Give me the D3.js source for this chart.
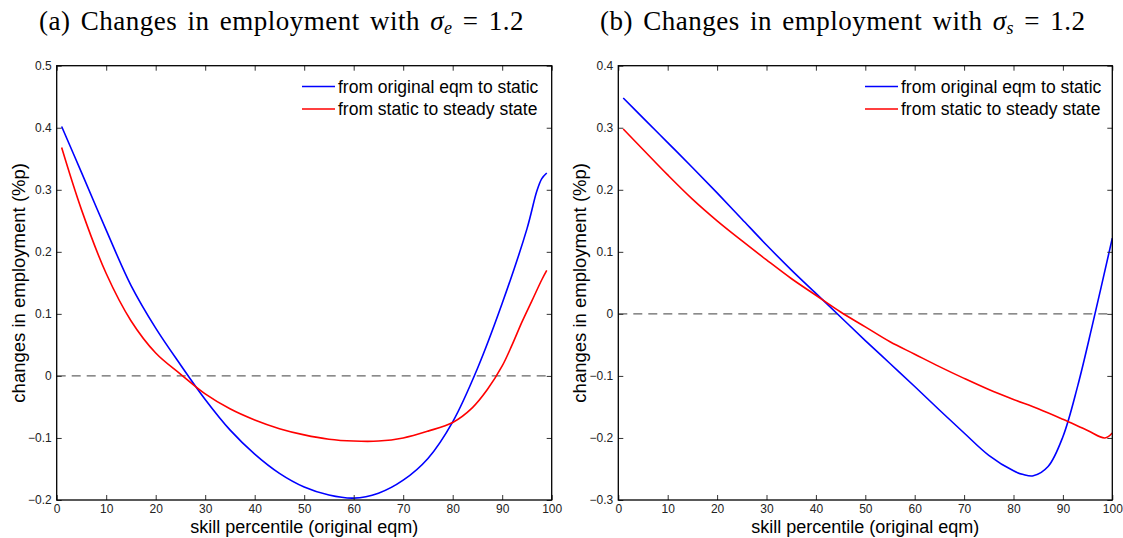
<!DOCTYPE html>
<html>
<head>
<meta charset="utf-8">
<script src="https://cdn.jsdelivr.net/npm/d3@7"></script>
<style>
  body { margin: 0; background: #fff; }
  svg { display: block; }
  text { font-family: 'Liberation Sans', Arial, sans-serif; }
</style>
</head>
<body>
<div id="chart"></div>
<script>
const legendLabels = ['from original eqm to static', 'from static to steady state']

// panel (a): sigma_e = 1.2
const staticPctA = [1, 5, 10, 15, 20, 25, 30, 35, 40, 45, 50, 55, 60, 65, 70, 75, 80, 85, 90, 95, 97, 98, 99]
const staticA = [0.402, 0.328, 0.235, 0.146, 0.077, 0.018, -0.038, -0.087, -0.126, -0.157, -0.179, -0.192, -0.197, -0.189, -0.168, -0.133, -0.074, 0.012, 0.117, 0.237, 0.298, 0.318, 0.327]
const steadyPctA = [1, 5, 10, 15, 20, 25, 30, 35, 40, 45, 50, 55, 60, 65, 70, 75, 80, 84, 87, 90, 92, 94, 96, 98, 99]
const steadyA = [0.368, 0.268, 0.165, 0.089, 0.037, 0.003, -0.029, -0.053, -0.071, -0.085, -0.095, -0.102, -0.105, -0.105, -0.100, -0.089, -0.075, -0.051, -0.022, 0.016, 0.050, 0.087, 0.121, 0.155, 0.170]
const yTicksA = [-0.2, -0.1, 0, 0.1, 0.2, 0.3, 0.4, 0.5]

// panel (b): sigma_s = 1.2
const staticPctB = [1, 5, 10, 15, 20, 25, 30, 35, 40, 45, 50, 55, 60, 65, 70, 75, 80, 82, 84, 87, 90, 93, 96, 100]
const staticB = [0.348, 0.316, 0.276, 0.236, 0.195, 0.153, 0.111, 0.071, 0.033, -0.005, -0.043, -0.080, -0.117, -0.155, -0.192, -0.228, -0.253, -0.259, -0.261, -0.246, -0.198, -0.116, -0.017, 0.122]
const steadyPctB = [1, 5, 10, 15, 20, 25, 30, 35, 40, 45, 50, 55, 60, 65, 70, 75, 80, 85, 90, 95, 98.5, 100]
const steadyB = [0.298, 0.265, 0.224, 0.185, 0.150, 0.118, 0.087, 0.057, 0.030, 0.003, -0.021, -0.045, -0.065, -0.085, -0.104, -0.122, -0.138, -0.153, -0.170, -0.188, -0.200, -0.192]
const yTicksB = [-0.3, -0.2, -0.1, 0, 0.1, 0.2, 0.3, 0.4]

const xTicks = [0, 10, 20, 30, 40, 50, 60, 70, 80, 90, 100]

const width = 1123
const height = 538

const svg = d3.select('#chart')
  .append('svg')
  .attr('width', width)
  .attr('height', height)

const drawPanel = (cfg) => {
  const x = d3.scaleLinear().domain([0, 100]).range([cfg.left, cfg.right])
  const y = d3.scaleLinear().domain(d3.extent(cfg.yTicks)).range([500, 65.7])
  const g = svg.append('g')

  // title with greek symbol
  const title = g.append('text')
    .attr('x', cfg.titleX)
    .attr('y', 30)
    .style('font-family', "'Liberation Serif', 'Times New Roman', serif")
    .style('font-size', '27px')
    .style('letter-spacing', '0.5px')
    .style('word-spacing', '3px')
  title.append('tspan').text(cfg.prefix + ' Changes in employment with ')
  title.append('tspan').style('font-style', 'italic').text('σ')
  title.append('tspan').style('font-style', 'italic').style('font-size', '18px')
    .attr('dy', 4).text(cfg.sub)
  title.append('tspan').attr('dy', -4).text(' = 1.2')

  // zero reference line
  g.append('line')
    .attr('x1', x(0)).attr('x2', x(100))
    .attr('y1', y(0)).attr('y2', y(0))
    .attr('stroke', '#666')
    .attr('stroke-width', 1.3)
    .attr('stroke-dasharray', '9,6')

  const line = (xs) => d3.line()
    .x((d, i) => x(xs[i]))
    .y(d => y(d))
    .curve(d3.curveCatmullRom.alpha(0.5))

  g.append('path')
    .datum(cfg.staticVals)
    .attr('fill', 'none')
    .attr('stroke', '#0000ff')
    .attr('stroke-width', 1.6)
    .attr('d', line(cfg.staticX))

  g.append('path')
    .datum(cfg.steadyVals)
    .attr('fill', 'none')
    .attr('stroke', '#ff0000')
    .attr('stroke-width', 1.6)
    .attr('d', line(cfg.steadyX))

  // axes, ticks pointing inward on all four sides
  const fmt = d => d === 0 ? '0' : d3.format('.1f')(d).replace('-', '−')
  const axisStyle = sel => {
    sel.select('.domain').remove()
    sel.selectAll('.tick line').attr('stroke', '#333')
    sel.selectAll('.tick text')
      .style('font-family', "'Liberation Sans', Arial, sans-serif")
      .style('font-size', '12px')
      .attr('fill', '#222')
  }

  g.append('g')
    .attr('transform', `translate(0, ${y.range()[0]})`)
    .call(d3.axisBottom(x).tickValues(xTicks).tickSize(-5).tickPadding(4).tickFormat(d3.format('d')))
    .call(axisStyle)

  g.append('g')
    .attr('transform', `translate(0, ${y.range()[1]})`)
    .call(d3.axisTop(x).tickValues(xTicks).tickSize(-5).tickFormat(''))
    .call(axisStyle)

  g.append('g')
    .attr('transform', `translate(${x(0)}, 0)`)
    .call(d3.axisLeft(y).tickValues(cfg.yTicks).tickSize(-5).tickPadding(5).tickFormat(fmt))
    .call(axisStyle)

  g.append('g')
    .attr('transform', `translate(${x(100)}, 0)`)
    .call(d3.axisRight(y).tickValues(cfg.yTicks).tickSize(-5).tickFormat(''))
    .call(axisStyle)

  g.append('rect')
    .attr('x', x(0)).attr('y', y.range()[1])
    .attr('width', x(100) - x(0))
    .attr('height', y.range()[0] - y.range()[1])
    .attr('fill', 'none')
    .attr('stroke', '#000')
    .attr('stroke-width', 1.3)

  g.append('text')
    .attr('x', (x(0) + x(100)) / 2)
    .attr('y', 533)
    .attr('text-anchor', 'middle')
    .style('font-size', '18px')
    .text('skill percentile (original eqm)')

  g.append('text')
    .attr('transform', `translate(${cfg.left - 32}, ${(y.range()[0] + y.range()[1]) / 2}) rotate(-90)`)
    .attr('text-anchor', 'middle')
    .style('font-size', '18.5px')
    .text('changes in employment (%p)')

  // legend
  const legend = g.append('g')
    .selectAll('g')
    .data(legendLabels)
    .enter()
    .append('g')
    .attr('transform', (d, i) => `translate(${cfg.legendX}, ${86.5 + i * 22.5})`)
  legend.append('line')
    .attr('x1', 0).attr('x2', 33)
    .attr('stroke', (d, i) => ['#0000ff', '#ff0000'][i])
    .attr('stroke-width', 1.6)
  legend.append('text')
    .attr('x', 36)
    .attr('dy', '0.35em')
    .style('font-size', '17.5px')
    .text(d => d)
}

drawPanel({
  left: 56.7, right: 551.7, titleX: 39, prefix: '(a)', sub: 'e',
  yTicks: yTicksA, legendX: 302,
  staticX: staticPctA, staticVals: staticA,
  steadyX: steadyPctA, steadyVals: steadyA
})

drawPanel({
  left: 618.3, right: 1112.3, titleX: 600, prefix: '(b)', sub: 's',
  yTicks: yTicksB, legendX: 865,
  staticX: staticPctB, staticVals: staticB,
  steadyX: steadyPctB, steadyVals: steadyB
})
</script>
</body>
</html>
